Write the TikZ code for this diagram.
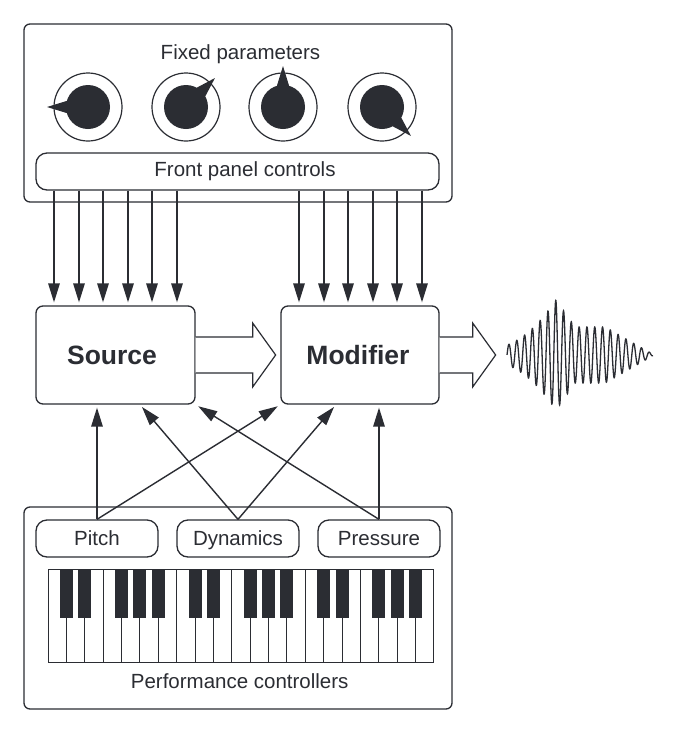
\documentclass[tikz,border=0pt]{standalone}
\usepackage{fontspec}
\setmainfont{Liberation Sans}
\usetikzlibrary{arrows.meta,calc}
\definecolor{ink}{HTML}{2B2D33}
\begin{document}
\begin{tikzpicture}[x=1pt,y=-1pt,
  declare function={env(\u)=(\u<49)*(10+45*(\u/49)*(0.4+0.6*\u/49))+(\u>=49)*(\u<68)*(55-27*(\u-49)/19)+(\u>=68)*(\u<98)*28+(\u>=98)*(28-25*(\u-98)/44);},
  panel/.style={draw=ink,line width=1.3pt,rounded corners=6pt,inner sep=0pt},
  pill/.style={draw=ink,line width=1.3pt,rounded corners=11pt,inner sep=0pt,minimum height=37pt,
    font=\fontsize{20.5}{24}\selectfont,text=ink,text height=14.7pt,text depth=0pt},
  blockbox/.style={draw=ink,line width=1.3pt,rounded corners=7pt,minimum width=159pt,minimum height=98pt,inner sep=0pt},
  boldlbl/.style={font=\bfseries\fontsize{26.5}{30}\selectfont,text=ink,inner sep=0pt,anchor=base},
  arr/.style={draw=ink,line width=1.4pt,-{Triangle[length=19pt,width=11.5pt]},shorten >=3pt},
  lbl/.style={font=\fontsize{20.5}{24}\selectfont,text=ink,inner sep=0pt,anchor=base},
  knobring/.style={draw=ink,line width=1.2pt},
  bigarrow/.style={draw=ink,line width=1.2pt,line join=miter,fill=white},
  keyline/.style={draw=ink,line width=1pt},
  wave/.style={draw=ink,line width=1.3pt}
]
\fill[white] (0,0) rectangle (696,748);
\useasboundingbox (0,0) rectangle (696,748);

% top panel
\node[panel,minimum width=428pt,minimum height=178pt] (top) at (238,113) {};
\node[lbl] (fixed) at (240.5,59) {Fixed parameters};
\foreach \cx/\a [count=\i] in {88/180,186/-45,283/-90,382/45} {
  \coordinate (k\i) at (\cx,107);
  \draw[knobring] (k\i) circle[radius=34pt];
  \fill[ink] (k\i) circle[radius=22pt];
  \fill[ink] ($(k\i)+(\a:41)$) -- ($(k\i)+(\a+28:17)$) -- ($(k\i)+(\a-28:17)$) -- cycle;
}
\node[pill,minimum width=403pt] (fp) at (237.5,171.5) {};
\node[lbl] (fptext) at (245,176) {Front panel controls};

% processing boxes
\node[blockbox] (src) at (115.5,355) {};
\node[blockbox,minimum width=158pt] (mod) at (360,355) {};
\node[boldlbl] (srclbl) at (112,364) {Source};
\node[boldlbl] (modlbl) at (358,364) {Modifier};

\foreach \x in {54,79,103,128,152,177}
  \draw[arr] (fp.south -| \x,0) -- (src.north -| \x,0);
\foreach \x in {299,324,348,373,397,422}
  \draw[arr] (fp.south -| \x,0) -- (mod.north -| \x,0);

% big hollow arrows
\draw[bigarrow] ($(src.east)+(0,-18)$) -- ($(src.east)+(57,-18)$) -- ($(src.east)+(57,-32)$)
  -- ($(src.east)+(80,0)$) -- ($(src.east)+(57,32)$) -- ($(src.east)+(57,18)$) -- ($(src.east)+(0,18)$);
\draw[bigarrow] ($(mod.east)+(0,-18)$) -- ($(mod.east)+(33,-18)$) -- ($(mod.east)+(33,-32)$)
  -- ($(mod.east)+(56,0)$) -- ($(mod.east)+(33,32)$) -- ($(mod.east)+(33,18)$) -- ($(mod.east)+(0,18)$);

% waveform
\draw[wave] plot[domain=0.01:146,samples=900,variable=\u] ({507+\u},{355-env(\u)*sin(\u/7.8*360)});

% bottom panel
\node[panel,minimum width=428pt,minimum height=202pt] (bot) at (238,608) {};
\node[pill,minimum width=122pt] (pitch) at (97,538.5) {Pitch};
\node[pill,minimum width=122pt] (dyn) at (238,538.5) {Dynamics};
\node[pill,minimum width=122pt] (pres) at (379,538.5) {Pressure};
\node[lbl] (perf) at (239.7,688) {Performance controllers};

% keyboard
\foreach \i in {0,...,20}
  \draw[keyline] ({48+\i*18.38},569) rectangle ++(18.38,93);
\foreach \o in {0,1,2}
  \foreach \j in {1,2,4,5,6}
    \fill[ink] ({48+(7*\o+\j)*18.38-6.5},569) rectangle ++(13,49);

% controller connections
\draw[arr] (pitch.north) -- (src.south -| pitch.north);
\draw[arr] (pitch.north) -- (mod.south west);
\draw[arr] (dyn.north) -- (src.south -| 140,0);
\draw[arr] (dyn.north) -- (mod.south -| 336,0);
\draw[arr] (pres.north) -- (src.south east);
\draw[arr] (pres.north) -- (mod.south -| pres.north);
\end{tikzpicture}
\end{document}
